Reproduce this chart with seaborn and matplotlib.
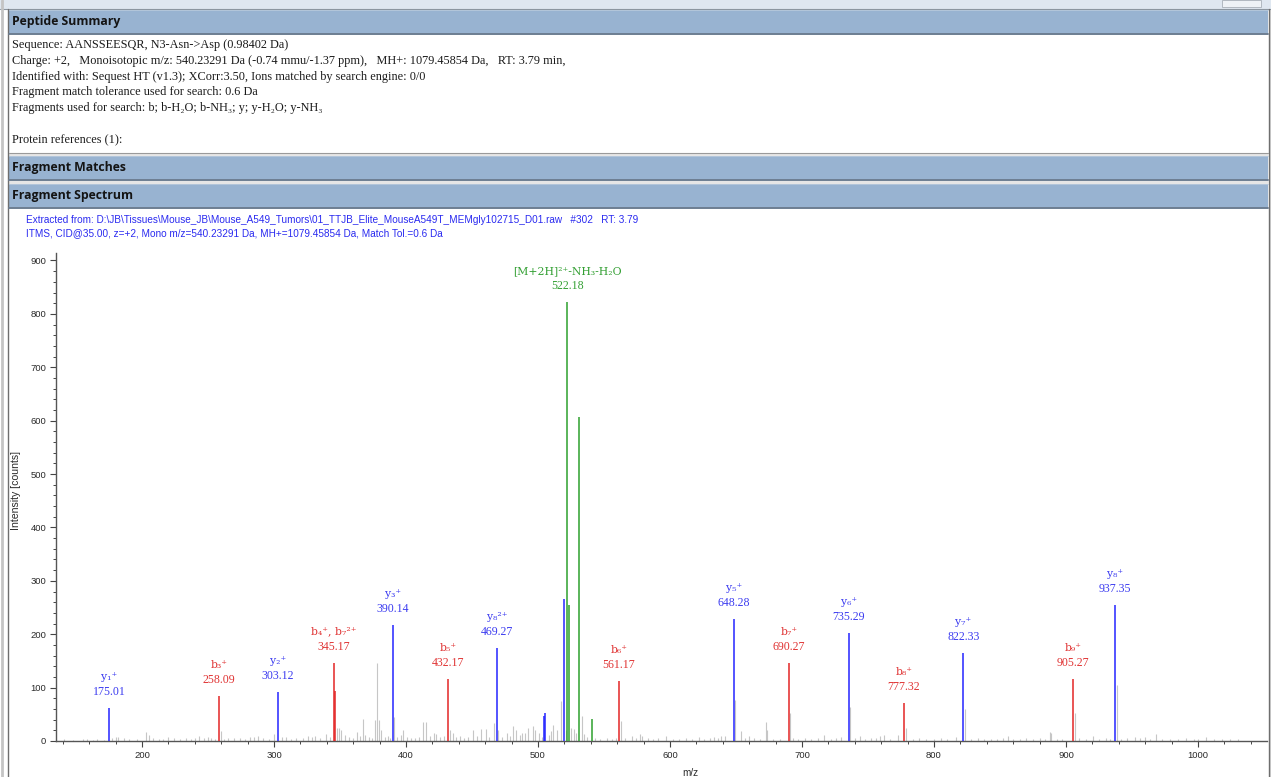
import numpy as np
import pandas as pd
import matplotlib
matplotlib.use("Agg")
import matplotlib.pyplot as plt
from matplotlib.patches import Rectangle
from matplotlib.lines import Line2D
import seaborn as sns

# ---- labelled fragment matches ----
ion_mz = [175.01, 258.09, 303.12, 345.17, 390.14, 432.17, 469.27, 522.18,
          561.17, 648.28, 690.27, 735.29, 777.32, 822.33, 905.27, 937.35]
ion_int = [62, 84, 91, 147, 217, 117, 175, 822,
           112, 228, 147, 203, 71, 164, 117, 255]
ion_kind = ['y', 'b', 'y', 'b', 'y', 'b', 'y', 'M',
            'b', 'y', 'b', 'y', 'b', 'y', 'b', 'y']
ion_names = ['y₁⁺', 'b₃⁺', 'y₂⁺', 'b₄⁺, b₇²⁺', 'y₃⁺', 'b₅⁺', 'y₈²⁺', '[M+2H]²⁺-NH₃-H₂O',
             'b₆⁺', 'y₅⁺', 'b₇⁺', 'y₆⁺', 'b₈⁺', 'y₇⁺', 'b₉⁺', 'y₈⁺']

# ---- matched but unlabelled peaks ----
extra_mz = [346.2, 504.9, 505.3, 519.6, 523.6, 531.2, 540.6]
extra_int = [94, 46, 53, 266, 255, 606, 42]
extra_kind = ['b', 'y', 'y', 'y', 'M', 'M', 'M']

# ---- unmatched peaks (grey) ----
noise_mz = [141, 148, 155, 158, 163, 166, 171, 177, 180, 182, 186, 190, 196, 203, 205, 208,
            213, 216, 220, 224, 229, 233, 237, 240, 243, 247, 250, 252, 255, 259.5, 262, 265,
            270, 274, 278, 282, 285, 288, 292, 296, 300, 306, 309, 313, 317, 322, 326, 329,
            331, 335, 339.6, 342.7, 348, 349.5, 351, 354, 357, 360, 362.6, 365, 367.2, 369,
            372, 374, 376.5, 378.3, 379.8, 381, 384, 386, 388, 391, 393, 396, 397.5, 400.5,
            404, 407, 410, 413, 415.3, 418, 421, 423, 426, 429, 433, 435.8, 438, 441, 444,
            447, 451, 454, 457, 460.3, 463, 466.7, 470, 473, 476.3, 479, 481.4, 483, 486,
            488, 490, 492.7, 496, 497.8, 501, 503, 508, 510, 511.7, 514, 517.2, 521, 525,
            527, 529, 533.3, 535, 537, 543, 547, 552, 556, 559, 563, 566, 571, 574, 577,
            578.6, 583, 587, 591, 597, 602, 607, 612, 617, 622, 626, 630, 633, 636, 639,
            642, 649.6, 654, 657, 660, 664, 668, 672.6, 673.5, 678, 683, 691, 693, 697, 702,
            707, 712, 717, 722, 726, 729.5, 736, 740, 744, 748, 752, 756, 759, 762, 767,
            773, 779, 784, 789, 794, 800, 805, 810, 817, 823.3, 828, 833, 838, 843, 848,
            852, 855.7, 860, 865, 870, 875, 880, 884, 887.6, 888.5, 893, 897, 906.6, 910,
            915, 920.7, 925, 930, 933, 938.4, 942, 946, 952, 956, 960, 964, 968, 973, 979,
            985, 991, 997, 1000, 1006, 1012, 1018, 1024, 1030]
noise_int = [3, 2, 4, 3, 2, 3, 2, 5, 8, 7, 6, 4, 3, 16, 12, 5,
             4, 3, 8, 6, 4, 5, 4, 6, 10, 6, 7, 5, 4, 19, 4, 5,
             6, 5, 4, 8, 7, 10, 5, 4, 13, 8, 7, 4, 5, 6, 10, 8,
             9, 6, 13, 8, 24, 25, 20, 12, 8, 6, 17, 10, 41, 12,
             8, 6, 39, 147, 39, 21, 8, 10, 6, 45, 8, 12, 20, 8,
             6, 5, 8, 36, 35, 10, 15, 14, 8, 10, 21, 15, 8, 10, 6,
             8, 20, 10, 22, 22, 8, 33, 20, 8, 15, 10, 28, 20, 12,
             15, 15, 25, 28, 20, 15, 8, 12, 18, 30, 20, 74, 20, 24,
             22, 15, 46, 14, 8, 5, 4, 5, 4, 6, 37, 5, 10, 5, 13,
             10, 5, 4, 5, 10, 4, 4, 5, 4, 8, 4, 5, 8, 6, 9,
             10, 77, 19, 6, 10, 5, 4, 35, 20, 4, 4, 52, 6, 4, 5,
             4, 5, 11, 4, 5, 8, 63, 5, 10, 4, 5, 5, 10, 11, 4,
             12, 24, 4, 5, 4, 4, 5, 4, 8, 59, 4, 5, 4, 4, 4,
             5, 10, 4, 4, 5, 4, 5, 4, 16, 15, 4, 4, 53, 5,
             4, 10, 4, 5, 4, 104, 4, 5, 8, 6, 8, 4, 14, 4, 4,
             4, 5, 4, 4, 8, 4, 4, 3, 3]

header_lines = [
    "Sequence: AANSSEESQR, N3-Asn->Asp (0.98402 Da)",
    "Charge: +2,   Monoisotopic m/z: 540.23291 Da (-0.74 mmu/-1.37 ppm),   MH+: 1079.45854 Da,   RT: 3.79 min,",
    "Identified with: Sequest HT (v1.3); XCorr:3.50, Ions matched by search engine: 0/0",
    "Fragment match tolerance used for search: 0.6 Da",
    "Fragments used for search: b; b-H₂O; b-NH₃; y; y-H₂O; y-NH₃",
]
spectrum_info = [
    r"Extracted from: D:\JB\Tissues\Mouse_JB\Mouse_A549_Tumors\01_TTJB_Elite_MouseA549T_MEMgly102715_D01.raw   #302   RT: 3.79",
    "ITMS, CID@35.00, z=+2, Mono m/z=540.23291 Da, MH+=1079.45854 Da, Match Tol.=0.6 Da",
]

line_col = {'b': '#e32626', 'y': '#2424ff', 'M': '#2ea02e'}
text_col = {'b': '#e03434', 'y': '#3c3cf0', 'M': '#34a034'}

sns.set_theme(style="ticks")
plt.rcParams['font.family'] = ['Liberation Sans', 'DejaVu Sans']
SERIF = ['Liberation Serif', 'DejaVu Serif']
ION_FONT = ['DejaVu Serif']

W, H = 1271, 777
fig = plt.figure(figsize=(W / 100, H / 100), dpi=100)
fig.patch.set_facecolor('white')


def box(x0, y0, x1, y1, **kw):
    fig.add_artist(Rectangle((x0 / W, 1 - y1 / H), (x1 - x0) / W, (y1 - y0) / H,
                             transform=fig.transFigure, **kw))


def hline(y, x0, x1, color, lw=1.0):
    fig.add_artist(Line2D([x0 / W, x1 / W], [1 - y / H, 1 - y / H],
                          transform=fig.transFigure, color=color, lw=lw))


def vline(x, y0, y1, color, lw=1.0):
    fig.add_artist(Line2D([x / W, x / W], [1 - y0 / H, 1 - y1 / H],
                          transform=fig.transFigure, color=color, lw=lw))


# window chrome
box(0, 0, W, 9, fc='#dfe7f0', ec='none')
hline(9, 0, W, '#8c96a0', 0.8)
box(1222, 0, 1261, 7, fc='#eef2f6', ec='#a8b0b8', lw=0.6)
box(1269, 9, W, H, fc='#d8d8d8', ec='none')
vline(1.5, 0, H, '#c4c4c4', 2.0)
vline(8, 9, H, '#6e6e6e', 1.0)
vline(1268.5, 9, H, '#6e6e6e', 1.0)

# section headers
for y0, y1, title in [(10, 34, "Peptide Summary"), (156, 180, "Fragment Matches"),
                      (184, 208, "Fragment Spectrum")]:
    box(8.5, y0, 1268, y1, fc='#98b3d1', ec='none')
    hline(y1, 8.5, 1268, '#6d7e92', 1.4)
    hline(y0, 8.5, 1268, '#b8c9dc', 0.6)
    fig.text(12 / W, 1 - (y0 + y1) / 2 / H, title, fontsize=8.8, fontweight='bold',
             color='#141414', va='center', ha='left', family=['Open Sans', 'DejaVu Sans'])

hline(153, 8.5, 1268, '#9a9a9a', 0.8)
box(8.5, 154, 1268, 156, fc='#e6e6e6', ec='none')
box(8.5, 181, 1268, 184, fc='#e6e6e6', ec='none')

for i, txt in enumerate(header_lines):
    fig.text(12 / W, 1 - (45 + 15.8 * i) / H, txt, fontsize=8.8, color='#1a1a1a',
             va='center', ha='left', family=SERIF)
fig.text(12 / W, 1 - 140 / H, "Protein references (1):", fontsize=8.8, color='#1a1a1a',
         va='center', ha='left', family=SERIF)

for i, txt in enumerate(spectrum_info):
    fig.text(26 / W, 1 - (220 + 13 * i) / H, txt, fontsize=7.2, color='#2a2af0',
             va='center', ha='left')

# ---- spectrum ----
ax = fig.add_axes([56 / W, 1 - 741 / H, (1267 - 56) / W, (741 - 253) / H])
ax.set_facecolor('white')

ax.vlines(noise_mz, 0, noise_int, color='#c6c6c6', lw=0.8, zorder=2)
for k in ['b', 'y', 'M']:
    xs = [m for m, t in zip(extra_mz, extra_kind) if t == k] + \
         [m for m, t in zip(ion_mz, ion_kind) if t == k]
    hs = [v for v, t in zip(extra_int, extra_kind) if t == k] + \
         [v for v, t in zip(ion_int, ion_kind) if t == k]
    ax.vlines(xs, 0, hs, color=line_col[k], lw=1.1, zorder=3)

for m, v, t, name in zip(ion_mz, ion_int, ion_kind, ion_names):
    ax.annotate(f"{m:.2f}", xy=(m, v), xytext=(0, 16), textcoords='offset pixels',
                ha='center', va='center', fontsize=8.6, color=text_col[t], family=SERIF)
    ax.annotate(name, xy=(m, v), xytext=(0, 31), textcoords='offset pixels',
                ha='center', va='center', fontsize=7.8, color=text_col[t], family=ION_FONT)

ax.set_xlim(134.8, 1052.3)
ax.set_ylim(0, 914)
ax.set_xticks(np.arange(200, 1001, 100))
ax.set_xticks(np.arange(140, 1051, 20), minor=True)
ax.set_yticks(np.arange(0, 901, 100))
ax.set_yticks(np.arange(0, 911, 20), minor=True)
ax.tick_params(which='major', length=4, width=0.8, color='#444444', labelsize=6.8,
               labelcolor='#2a2a2a', pad=3)
ax.tick_params(which='minor', length=2, width=0.7, color='#444444')
sns.despine(ax=ax)
for s in ['left', 'bottom']:
    ax.spines[s].set_color('#555555')
    ax.spines[s].set_linewidth(1.0)
ax.set_xlabel("m/z", fontsize=7.2, color='#2a2a2a')
ax.set_ylabel("Intensity [counts]", fontsize=7.6, color='#2a2a2a')
ax.xaxis.set_label_coords((690 - 56) / (1267 - 56), -(768 - 741) / (741 - 253))
ax.yaxis.set_label_coords(-(56 - 21) / (1267 - 56), (741 - 490) / (741 - 253))
ax.grid(False)

fig.savefig("out.png", dpi=100)
